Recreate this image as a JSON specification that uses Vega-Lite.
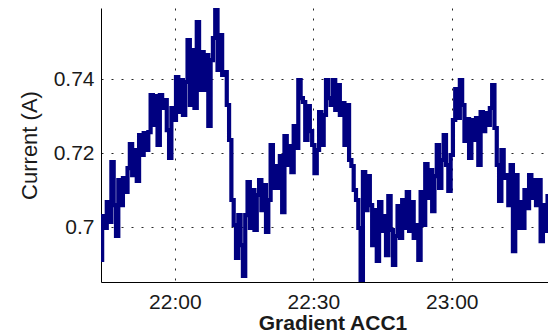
{
  "$schema": "https://vega.github.io/schema/vega-lite/v6.json",
  "width": 463,
  "height": 274,
  "autosize": {"type": "none"},
  "padding": {"left": 101, "top": 8, "right": 0, "bottom": 51},
  "background": "white",
  "config": {
    "view": {"stroke": null},
    "font": "Liberation Sans",
    "axis": {
      "labelFont": "Liberation Sans",
      "titleFont": "Liberation Sans",
      "labelColor": "#1a1a1a",
      "titleColor": "#1a1a1a",
      "domainColor": "#000000",
      "domainWidth": 1,
      "ticks": false,
      "grid": true,
      "gridColor": "#000000",
      "gridDash": [2, 8],
      "gridWidth": 1,
      "gridOpacity": 0.85
    }
  },
  "data": {
    "values": [
      {"t":"2020-01-01T21:44:00","v":0.69108},{"t":"2020-01-01T21:44:30","v":0.70297},
      {"t":"2020-01-01T21:45:00","v":0.69973},{"t":"2020-01-01T21:45:30","v":0.70676},
      {"t":"2020-01-01T21:46:00","v":0.70135},{"t":"2020-01-01T21:46:30","v":0.71757},
      {"t":"2020-01-01T21:47:00","v":0.70594},{"t":"2020-01-01T21:47:30","v":0.69757},
      {"t":"2020-01-01T21:48:00","v":0.71270},{"t":"2020-01-01T21:48:30","v":0.70594},
      {"t":"2020-01-01T21:49:00","v":0.71324},{"t":"2020-01-01T21:49:30","v":0.70946},
      {"t":"2020-01-01T21:50:00","v":0.71594},{"t":"2020-01-01T21:50:30","v":0.72243},
      {"t":"2020-01-01T21:51:00","v":0.71405},{"t":"2020-01-01T21:51:30","v":0.72081},
      {"t":"2020-01-01T21:52:00","v":0.71243},{"t":"2020-01-01T21:52:30","v":0.72486},
      {"t":"2020-01-01T21:53:00","v":0.71946},{"t":"2020-01-01T21:53:30","v":0.72540},
      {"t":"2020-01-01T21:54:00","v":0.72081},{"t":"2020-01-01T21:54:30","v":0.72567},
      {"t":"2020-01-01T21:55:00","v":0.73567},{"t":"2020-01-01T21:55:30","v":0.72757},
      {"t":"2020-01-01T21:56:00","v":0.73540},{"t":"2020-01-01T21:56:30","v":0.72216},
      {"t":"2020-01-01T21:57:00","v":0.73567},{"t":"2020-01-01T21:57:30","v":0.73216},
      {"t":"2020-01-01T21:58:00","v":0.73432},{"t":"2020-01-01T21:58:30","v":0.72621},
      {"t":"2020-01-01T21:59:00","v":0.71865},{"t":"2020-01-01T21:59:30","v":0.73216},
      {"t":"2020-01-01T22:00:00","v":0.72892},{"t":"2020-01-01T22:00:30","v":0.74054},
      {"t":"2020-01-01T22:01:00","v":0.73108},{"t":"2020-01-01T22:01:30","v":0.73973},
      {"t":"2020-01-01T22:02:00","v":0.73027},{"t":"2020-01-01T22:02:30","v":0.73919},
      {"t":"2020-01-01T22:03:00","v":0.75054},{"t":"2020-01-01T22:03:30","v":0.73297},
      {"t":"2020-01-01T22:04:00","v":0.74784},{"t":"2020-01-01T22:04:30","v":0.73216},
      {"t":"2020-01-01T22:05:00","v":0.75540},{"t":"2020-01-01T22:05:30","v":0.73703},
      {"t":"2020-01-01T22:06:00","v":0.74730},{"t":"2020-01-01T22:06:30","v":0.73703},
      {"t":"2020-01-01T22:07:00","v":0.74649},{"t":"2020-01-01T22:07:30","v":0.72730},
      {"t":"2020-01-01T22:08:00","v":0.74513},{"t":"2020-01-01T22:08:30","v":0.75108},
      {"t":"2020-01-01T22:09:00","v":0.75865},{"t":"2020-01-01T22:09:30","v":0.74243},
      {"t":"2020-01-01T22:10:00","v":0.75189},{"t":"2020-01-01T22:10:30","v":0.74108},
      {"t":"2020-01-01T22:11:00","v":0.74189},{"t":"2020-01-01T22:11:30","v":0.73297},
      {"t":"2020-01-01T22:12:00","v":0.72351},{"t":"2020-01-01T22:12:30","v":0.70730},
      {"t":"2020-01-01T22:13:00","v":0.70054},{"t":"2020-01-01T22:13:30","v":0.69162},
      {"t":"2020-01-01T22:14:00","v":0.70324},{"t":"2020-01-01T22:14:30","v":0.69513},
      {"t":"2020-01-01T22:15:00","v":0.68676},{"t":"2020-01-01T22:15:30","v":0.70324},
      {"t":"2020-01-01T22:16:00","v":0.71216},{"t":"2020-01-01T22:16:30","v":0.69973},
      {"t":"2020-01-01T22:17:00","v":0.71000},{"t":"2020-01-01T22:17:30","v":0.69919},
      {"t":"2020-01-01T22:18:00","v":0.70865},{"t":"2020-01-01T22:18:30","v":0.71270},
      {"t":"2020-01-01T22:19:00","v":0.70459},{"t":"2020-01-01T22:19:30","v":0.71135},
      {"t":"2020-01-01T22:20:00","v":0.69865},{"t":"2020-01-01T22:20:30","v":0.70730},
      {"t":"2020-01-01T22:21:00","v":0.72216},{"t":"2020-01-01T22:21:30","v":0.71054},
      {"t":"2020-01-01T22:22:00","v":0.71649},{"t":"2020-01-01T22:22:30","v":0.71054},
      {"t":"2020-01-01T22:23:00","v":0.71919},{"t":"2020-01-01T22:23:30","v":0.70405},
      {"t":"2020-01-01T22:24:00","v":0.72459},{"t":"2020-01-01T22:24:30","v":0.71676},
      {"t":"2020-01-01T22:25:00","v":0.72189},{"t":"2020-01-01T22:25:30","v":0.71486},
      {"t":"2020-01-01T22:26:00","v":0.72730},{"t":"2020-01-01T22:26:30","v":0.72135},
      {"t":"2020-01-01T22:27:00","v":0.73973},{"t":"2020-01-01T22:27:30","v":0.73486},
      {"t":"2020-01-01T22:28:00","v":0.73378},{"t":"2020-01-01T22:28:30","v":0.72351},
      {"t":"2020-01-01T22:29:00","v":0.73270},{"t":"2020-01-01T22:29:30","v":0.72594},
      {"t":"2020-01-01T22:30:00","v":0.72216},{"t":"2020-01-01T22:30:30","v":0.71459},
      {"t":"2020-01-01T22:31:00","v":0.72081},{"t":"2020-01-01T22:31:30","v":0.73108},
      {"t":"2020-01-01T22:32:00","v":0.72216},{"t":"2020-01-01T22:32:30","v":0.73027},
      {"t":"2020-01-01T22:33:00","v":0.73973},{"t":"2020-01-01T22:33:30","v":0.73486},
      {"t":"2020-01-01T22:34:00","v":0.73297},{"t":"2020-01-01T22:34:30","v":0.73973},
      {"t":"2020-01-01T22:35:00","v":0.73162},{"t":"2020-01-01T22:35:30","v":0.73838},
      {"t":"2020-01-01T22:36:00","v":0.73027},{"t":"2020-01-01T22:36:30","v":0.73351},
      {"t":"2020-01-01T22:37:00","v":0.72216},{"t":"2020-01-01T22:37:30","v":0.73297},
      {"t":"2020-01-01T22:38:00","v":0.71811},{"t":"2020-01-01T22:38:30","v":0.71649},
      {"t":"2020-01-01T22:39:00","v":0.71000},{"t":"2020-01-01T22:39:30","v":0.70730},
      {"t":"2020-01-01T22:40:00","v":0.69973},{"t":"2020-01-01T22:40:30","v":0.68567},
      {"t":"2020-01-01T22:41:00","v":0.71486},{"t":"2020-01-01T22:41:30","v":0.70459},
      {"t":"2020-01-01T22:42:00","v":0.71378},{"t":"2020-01-01T22:42:30","v":0.70594},
      {"t":"2020-01-01T22:43:00","v":0.69513},{"t":"2020-01-01T22:43:30","v":0.70459},
      {"t":"2020-01-01T22:44:00","v":0.69081},{"t":"2020-01-01T22:44:30","v":0.70676},
      {"t":"2020-01-01T22:45:00","v":0.69892},{"t":"2020-01-01T22:45:30","v":0.70297},
      {"t":"2020-01-01T22:46:00","v":0.69243},{"t":"2020-01-01T22:46:30","v":0.70838},
      {"t":"2020-01-01T22:47:00","v":0.69919},{"t":"2020-01-01T22:47:30","v":0.68973},
      {"t":"2020-01-01T22:48:00","v":0.69757},{"t":"2020-01-01T22:48:30","v":0.70567},
      {"t":"2020-01-01T22:49:00","v":0.69703},{"t":"2020-01-01T22:49:30","v":0.70730},
      {"t":"2020-01-01T22:50:00","v":0.69973},{"t":"2020-01-01T22:50:30","v":0.70946},
      {"t":"2020-01-01T22:51:00","v":0.69892},{"t":"2020-01-01T22:51:30","v":0.70676},
      {"t":"2020-01-01T22:52:00","v":0.69703},{"t":"2020-01-01T22:52:30","v":0.70054},
      {"t":"2020-01-01T22:53:00","v":0.69108},{"t":"2020-01-01T22:53:30","v":0.70946},
      {"t":"2020-01-01T22:54:00","v":0.70054},{"t":"2020-01-01T22:54:30","v":0.71703},
      {"t":"2020-01-01T22:55:00","v":0.70784},{"t":"2020-01-01T22:55:30","v":0.71540},
      {"t":"2020-01-01T22:56:00","v":0.70432},{"t":"2020-01-01T22:56:30","v":0.71378},
      {"t":"2020-01-01T22:57:00","v":0.72216},{"t":"2020-01-01T22:57:30","v":0.71054},
      {"t":"2020-01-01T22:58:00","v":0.71811},{"t":"2020-01-01T22:58:30","v":0.72486},
      {"t":"2020-01-01T22:59:00","v":0.71676},{"t":"2020-01-01T22:59:30","v":0.70973},
      {"t":"2020-01-01T23:00:00","v":0.71946},{"t":"2020-01-01T23:00:30","v":0.72892},
      {"t":"2020-01-01T23:01:00","v":0.73730},{"t":"2020-01-01T23:01:30","v":0.72946},
      {"t":"2020-01-01T23:02:00","v":0.73973},{"t":"2020-01-01T23:02:30","v":0.73297},
      {"t":"2020-01-01T23:03:00","v":0.72324},{"t":"2020-01-01T23:03:30","v":0.72919},
      {"t":"2020-01-01T23:04:00","v":0.71865},{"t":"2020-01-01T23:04:30","v":0.72892},
      {"t":"2020-01-01T23:05:00","v":0.72351},{"t":"2020-01-01T23:05:30","v":0.72946},
      {"t":"2020-01-01T23:06:00","v":0.71676},{"t":"2020-01-01T23:06:30","v":0.73108},
      {"t":"2020-01-01T23:07:00","v":0.72594},{"t":"2020-01-01T23:07:30","v":0.73081},
      {"t":"2020-01-01T23:08:00","v":0.72757},{"t":"2020-01-01T23:08:30","v":0.73216},
      {"t":"2020-01-01T23:09:00","v":0.73838},{"t":"2020-01-01T23:09:30","v":0.72676},
      {"t":"2020-01-01T23:10:00","v":0.71676},{"t":"2020-01-01T23:10:30","v":0.70703},
      {"t":"2020-01-01T23:11:00","v":0.72081},{"t":"2020-01-01T23:11:30","v":0.71324},
      {"t":"2020-01-01T23:12:00","v":0.71405},{"t":"2020-01-01T23:12:30","v":0.70594},
      {"t":"2020-01-01T23:13:00","v":0.71676},{"t":"2020-01-01T23:13:30","v":0.69351},
      {"t":"2020-01-01T23:14:00","v":0.71405},{"t":"2020-01-01T23:14:30","v":0.69973},
      {"t":"2020-01-01T23:15:00","v":0.70676},{"t":"2020-01-01T23:15:30","v":0.69973},
      {"t":"2020-01-01T23:16:00","v":0.71000},{"t":"2020-01-01T23:16:30","v":0.70513},
      {"t":"2020-01-01T23:17:00","v":0.71405},{"t":"2020-01-01T23:17:30","v":0.70784},
      {"t":"2020-01-01T23:18:00","v":0.71270},{"t":"2020-01-01T23:18:30","v":0.70594},
      {"t":"2020-01-01T23:19:00","v":0.71270},{"t":"2020-01-01T23:19:30","v":0.69621},
      {"t":"2020-01-01T23:20:00","v":0.70594},{"t":"2020-01-01T23:20:30","v":0.69892},
      {"t":"2020-01-01T23:21:00","v":0.70838},{"t":"2020-01-01T23:21:30","v":0.70054}
    ]
  },
  "mark": {"type": "line", "color": "#000080", "strokeWidth": 4.2, "interpolate": "step", "strokeJoin": "miter", "strokeCap": "square", "clip": true},
  "encoding": {
    "x": {
      "field": "t",
      "type": "temporal",
      "scale": {
        "domain": [
          {"year": 2020, "month": 1, "date": 1, "hours": 21, "minutes": 44, "seconds": 0},
          {"year": 2020, "month": 1, "date": 1, "hours": 23, "minutes": 24, "seconds": 19}
        ]
      },
      "axis": {
        "title": "Gradient ACC1",
        "titleFontSize": 21,
        "titleFontWeight": "bold",
        "titlePadding": 0,
        "labelFontSize": 21,
        "labelPadding": 9,
        "format": "%H:%M",
        "values": [
          {"year": 2020, "month": 1, "date": 1, "hours": 22, "minutes": 0},
          {"year": 2020, "month": 1, "date": 1, "hours": 22, "minutes": 30},
          {"year": 2020, "month": 1, "date": 1, "hours": 23, "minutes": 0}
        ]
      }
    },
    "y": {
      "field": "v",
      "type": "quantitative",
      "scale": {"domain": [0.68514, 0.75919], "zero": false, "nice": false},
      "axis": {
        "title": "Current (A)",
        "titleFontSize": 22,
        "titleFontWeight": "normal",
        "titlePadding": 12,
        "labelFontSize": 21,
        "labelPadding": 7,
        "values": [0.7, 0.72, 0.74],
        "format": "~g"
      }
    }
  }
}
